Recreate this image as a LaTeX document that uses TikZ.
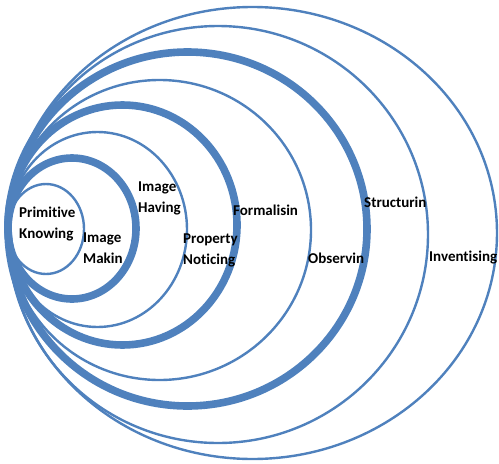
\documentclass[tikz,border=0pt]{standalone}
\usepackage{fontspec}
\setmainfont[Ligatures=NoCommon]{Carlito}
\definecolor{ringblue}{HTML}{4F81BD}
\begin{document}
\begin{tikzpicture}[x=1pt,y=-1pt,
  thinring/.style={draw=ringblue,line width=2.4pt},
  thickring/.style={draw=ringblue,line width=7.6pt},
  lbl/.style={anchor=west,align=left,inner sep=0pt,font=\fontsize{15}{20.5}\selectfont\bfseries,text=black}]
\useasboundingbox (0,0) rectangle (499,464);
% rings, tangent at the left
\draw[thinring]  (252.5,233)   ellipse [x radius=244.5pt, y radius=226pt];
\draw[thinring]  (218,234.5)   ellipse [x radius=210pt,   y radius=208.5pt];
\draw[thickring] (187.5,229)   ellipse [x radius=179.5pt, y radius=177pt];
\draw[thinring]  (159.5,230)   ellipse [x radius=151.5pt, y radius=150pt];
\draw[thickring] (122.5,225)   ellipse [x radius=114.5pt, y radius=120pt];
\draw[thinring]  (97.5,229.5)  ellipse [x radius=89.5pt,  y radius=97.5pt];
\draw[thickring] (72,228.5)    ellipse [x radius=64pt,    y radius=70.5pt];
\draw[thinring]  (46,229)      ellipse [x radius=38pt,    y radius=45pt];
% labels
\node[lbl] (pk) at (19,224) {Primitive\\Knowing};
\node[lbl] (im) at (83,248) {Image\\Makin};
\node[lbl] (ih) at (138,198.5) {Image\\Having};
\node[lbl] (pn) at (183,250.5) {Property\\Noticing};
\node[lbl] (fo) at (233,210) {Formalisin};
\node[lbl] (ob) at (308,258) {Observin};
\node[lbl] (st) at (364,202) {Structurin};
\node[lbl] (in) at (429,258) {Inventising};
\end{tikzpicture}
\end{document}
